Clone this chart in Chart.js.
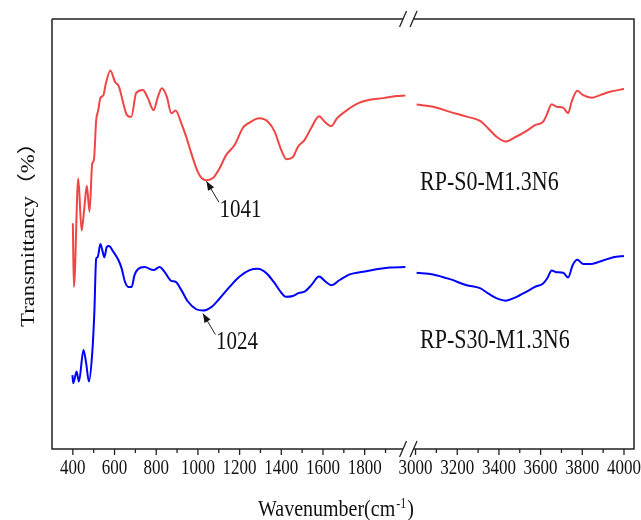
<!DOCTYPE html>
<html>
<head>
<meta charset="utf-8">
<script src="https://cdn.jsdelivr.net/npm/chart.js@4.4.1/dist/chart.umd.min.js"></script>
<style>
    html, body { margin: 0; padding: 0; background: #fff; }
    #wrap { width: 641px; height: 520px; }
</style>
</head>
<body>
<div id="wrap"><canvas id="ftirChart"></canvas></div>
<script>
// ========== DATOS (numero de onda en cm-1, transmitancia relativa) ==========

// RP-S0-M1.3N6, tramo 400-2000
const rojoOndaIzq = [400, 405, 426, 442, 455, 467, 480, 493, 501, 512, 522, 532, 547, 557, 580, 602, 621, 642, 659, 680,
    704, 736, 760, 787, 808, 827, 851, 872, 893, 920, 944, 968, 1000, 1020, 1041, 1072, 1104, 1136, 1176, 1216,
    1248, 1293, 1336, 1368, 1400, 1424, 1456, 1480, 1512, 1544, 1581, 1608, 1640, 1667, 1704, 1760, 1824, 1888, 1952, 1995];
const rojoTransIzq = [52.5, 37.7, 62.9, 50.8, 56.0, 61.2, 55.2, 66.4, 67.2, 76.5, 78.8, 81.6, 82.3, 84.7, 88.0, 85.4, 84.3, 80.4, 77.7, 77.2,
    82.8, 83.5, 81.6, 78.8, 81.9, 83.9, 81.9, 78.1, 78.7, 75.8, 72.6, 68.8, 64.4, 62.9, 62.5, 63.0, 65.3, 68.4, 70.7, 74.7,
    75.9, 76.9, 76.1, 73.8, 69.5, 67.4, 67.9, 70.3, 71.9, 74.7, 77.4, 76.1, 75.1, 76.9, 78.4, 80.2, 81.2, 81.6, 82.1, 82.2];

// RP-S0-M1.3N6, tramo 3000-4000
const rojoOndaDer = [3005, 3084, 3165, 3245, 3309, 3348, 3389, 3433, 3477, 3533, 3573, 3612, 3629, 3653, 3677, 3708,
    3732, 3749, 3776, 3804, 3845, 3885, 3933, 4000];
const rojoTransDer = [80.1, 79.6, 78.4, 77.3, 76.3, 74.6, 72.6, 71.5, 72.5, 74.0, 75.3, 76.1, 77.7, 80.2, 79.6, 79.4,
    78.1, 80.8, 83.3, 82.3, 81.7, 82.3, 83.1, 83.7];

// RP-S30-M1.3N6, tramo 400-2000
const azulOndaIzq = [398, 402, 418, 429, 451, 464, 477, 493, 503, 512, 519, 532, 541, 551, 563, 573, 594, 618, 634, 650,
    666, 682, 696, 712, 744, 787, 816, 840, 872, 893, 920, 952, 992, 1024, 1064, 1104, 1152, 1200, 1248, 1288,
    1328, 1363, 1396, 1421, 1456, 1485, 1512, 1544, 1581, 1613, 1640, 1680, 1728, 1792, 1856, 1920, 1995];
const azulTransIzq = [17.2, 15.3, 18.0, 15.7, 23.0, 19.9, 15.7, 22.3, 31.6, 44.3, 44.6, 47.7, 46.3, 44.6, 47.0, 47.2, 45.9, 44.0, 42.0, 38.9,
    37.7, 37.7, 40.5, 41.8, 42.3, 41.6, 42.3, 41.2, 39.1, 38.9, 37.0, 34.3, 32.5, 32.2, 33.0, 35.0, 37.7, 40.1, 41.6, 41.9,
    40.9, 38.9, 36.6, 35.4, 35.6, 36.3, 36.6, 38.1, 40.1, 38.9, 38.1, 39.3, 40.6, 41.2, 41.8, 42.2, 42.3];

// RP-S30-M1.3N6, tramo 3000-4000
const azulOndaDer = [3005, 3084, 3165, 3245, 3309, 3348, 3396, 3433, 3477, 3533, 3573, 3612, 3632, 3653, 3677, 3708,
    3732, 3754, 3776, 3804, 3837, 3885, 3949, 4000];
const azulTransDer = [41.0, 40.6, 39.5, 38.1, 37.4, 36.2, 34.9, 34.5, 35.2, 36.6, 37.7, 38.5, 39.7, 41.5, 41.1, 41.0,
    39.9, 42.8, 44.0, 43.0, 43.0, 43.6, 44.6, 44.9];

// Etiquetas del eje x y picos marcados
const ticksMayores = [400, 600, 800, 1000, 1200, 1400, 1600, 1800, 3000, 3200, 3400, 3600, 3800, 4000];
const ticksMenores = [500, 700, 900, 1100, 1300, 1500, 1700, 1900, 3100, 3300, 3500, 3700, 3900];
const picos = [
    { onda: 1041, trans: 62.5, texto: '1041' },
    { onda: 1024, trans: 32.2, texto: '1024' }
];
const nombres = ['RP-S0-M1.3N6', 'RP-S30-M1.3N6'];

// ========== EJE ROTO ==========
// 2000-3000 no se dibuja: a partir de 3000 se corre el eje 956 unidades
function ejeX(onda) {
    return onda <= 2500 ? onda : onda - 956;
}

function armarPuntos(ondasIzq, transIzq, ondasDer, transDer) {
    const puntos = ondasIzq.map((w, i) => ({ x: ejeX(w), y: transIzq[i] }));
    puntos.push({ x: ejeX(2500), y: null });
    ondasDer.forEach((w, i) => puntos.push({ x: ejeX(w), y: transDer[i] }));
    return puntos;
}

const SERIF = '"Liberation Serif", "Times New Roman", serif';
const ESTIRAR = 1.2; // el original tiene el texto algo alargado en vertical

function textoEstirado(ctx, texto, x, y, size, align, baseline) {
    ctx.save();
    ctx.translate(x, y);
    ctx.scale(1, ESTIRAR);
    ctx.font = size + 'px ' + SERIF;
    ctx.textAlign = align;
    ctx.textBaseline = baseline;
    ctx.fillText(texto, 0, 0);
    ctx.restore();
}

// Marco, ticks, rotulos y anotaciones
const decoracion = {
    id: 'decoracion',
    afterDraw(chart) {
        const { ctx, chartArea: a, scales: { x, y } } = chart;
        ctx.save();
        ctx.strokeStyle = '#222';
        ctx.fillStyle = '#111';
        ctx.lineWidth = 1.5;

        const xm = x.getPixelForValue(2008);
        const g1 = xm - 5, g2 = xm + 5.5;

        // marco con el corte
        ctx.beginPath();
        ctx.moveTo(a.left, a.top);
        ctx.lineTo(g1, a.top);
        ctx.moveTo(g2, a.top);
        ctx.lineTo(a.right, a.top);
        ctx.lineTo(a.right, a.bottom);
        ctx.lineTo(g2, a.bottom);
        ctx.moveTo(g1, a.bottom);
        ctx.lineTo(a.left, a.bottom);
        ctx.lineTo(a.left, a.top);
        ctx.stroke();

        // barras dobles //
        ctx.lineWidth = 1.3;
        ctx.beginPath();
        [a.top, a.bottom].forEach(yy => {
            [g1, g2].forEach(gx => {
                ctx.moveTo(gx - 3.5, yy + 8);
                ctx.lineTo(gx + 3.5, yy - 8);
            });
        });
        ctx.stroke();

        // ticks hacia afuera
        ctx.beginPath();
        ticksMayores.forEach(w => {
            const px = x.getPixelForValue(ejeX(w));
            ctx.moveTo(px, a.bottom);
            ctx.lineTo(px, a.bottom + 6);
        });
        ticksMenores.forEach(w => {
            const px = x.getPixelForValue(ejeX(w));
            ctx.moveTo(px, a.bottom);
            ctx.lineTo(px, a.bottom + 4);
        });
        ctx.stroke();

        ticksMayores.forEach(w => {
            textoEstirado(ctx, String(w), x.getPixelForValue(ejeX(w)), a.bottom + 20, 17, 'center', 'middle');
        });

        // titulo eje x con superindice
        const tx = 258, ty = 516;
        ctx.font = '20px ' + SERIF;
        const base = 'Wavenumber(cm';
        const wBase = ctx.measureText(base).width;
        textoEstirado(ctx, base, tx, ty, 20, 'left', 'alphabetic');
        ctx.font = '12px ' + SERIF;
        const wSup = ctx.measureText('-1').width;
        textoEstirado(ctx, '-1', tx + wBase + 1, ty - 8, 12, 'left', 'alphabetic');
        textoEstirado(ctx, ')', tx + wBase + wSup + 2, ty, 20, 'left', 'alphabetic');

        // titulo eje y
        ctx.save();
        ctx.translate(29, 327);
        ctx.rotate(-Math.PI / 2);
        ctx.scale(ESTIRAR, 1);
        ctx.font = '19px ' + SERIF + ', "Noto Sans CJK SC"';
        ctx.textAlign = 'left';
        ctx.textBaseline = 'middle';
        ctx.fillText('Transmittancy（%）', 0, 0);
        ctx.restore();

        // flechas de los picos
        picos.forEach((p, i) => {
            const px = x.getPixelForValue(ejeX(p.onda));
            const py = y.getPixelForValue(p.trans) + (i === 0 ? 1 : 3);
            const colaX = px + 12.5, colaY = py + 21;
            ctx.lineWidth = 1;
            ctx.beginPath();
            ctx.moveTo(colaX, colaY);
            ctx.lineTo(px, py);
            ctx.stroke();
            const ang = Math.atan2(py - colaY, px - colaX);
            ctx.beginPath();
            ctx.moveTo(px, py);
            ctx.lineTo(px - 9 * Math.cos(ang) + 3.5 * Math.sin(ang), py - 9 * Math.sin(ang) - 3.5 * Math.cos(ang));
            ctx.lineTo(px - 9 * Math.cos(ang) - 3.5 * Math.sin(ang), py - 9 * Math.sin(ang) + 3.5 * Math.cos(ang));
            ctx.closePath();
            ctx.fill();
            textoEstirado(ctx, p.texto, px + 34, colaY + 8, 21, 'center', 'middle');
        });

        // nombres de las muestras
        textoEstirado(ctx, nombres[0], 420, 183.5, 22, 'left', 'middle');
        textoEstirado(ctx, nombres[1], 420, 341.5, 22, 'left', 'middle');

        ctx.restore();
    }
};

// ========== GRAFICO ==========
const ctx = document.getElementById('ftirChart').getContext('2d');

const ftirChart = new Chart(ctx, {
    type: 'line',
    data: {
        datasets: [{
            label: nombres[0],
            data: armarPuntos(rojoOndaIzq, rojoTransIzq, rojoOndaDer, rojoTransDer),
            borderColor: '#f04545',
            borderWidth: 2,
            pointRadius: 0,
            cubicInterpolationMode: 'monotone',
            spanGaps: false
        }, {
            label: nombres[1],
            data: armarPuntos(azulOndaIzq, azulTransIzq, azulOndaDer, azulTransDer),
            borderColor: '#0000ff',
            borderWidth: 2,
            pointRadius: 0,
            cubicInterpolationMode: 'monotone',
            spanGaps: false
        }]
    },
    options: {
        responsive: true,
        maintainAspectRatio: false,
        animation: false,
        layout: {
            padding: { left: 52, right: 7, top: 19, bottom: 71 }
        },
        plugins: {
            legend: { display: false },
            tooltip: { enabled: false }
        },
        scales: {
            x: {
                type: 'linear',
                min: 300,
                max: ejeX(4048),
                display: false
            },
            y: {
                min: 0,
                max: 100,
                display: false
            }
        }
    },
    plugins: [decoracion]
});
</script>
</body>
</html>
